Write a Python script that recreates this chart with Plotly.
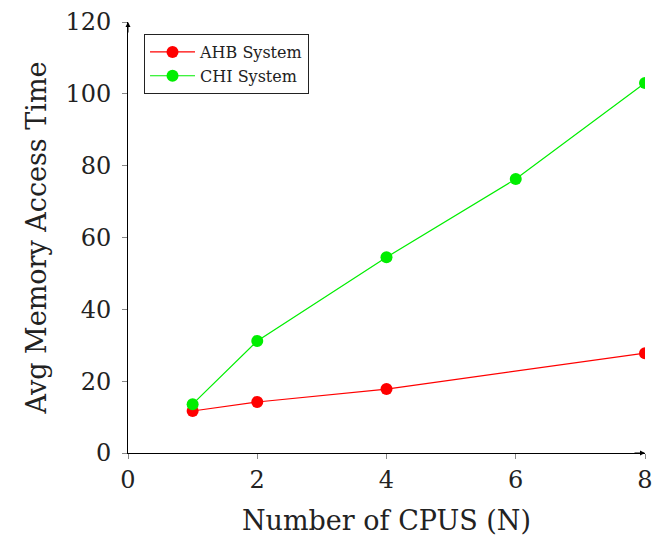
import plotly.graph_objects as go

ahb_x = [1, 2, 4, 8]
ahb_y = [11.7, 14.2, 17.8, 27.8]
chi_x = [1, 2, 4, 6, 8]
chi_y = [13.6, 31.2, 54.5, 76.3, 103.0]
x_ticks = [0, 2, 4, 6, 8]
y_ticks = [0, 20, 40, 60, 80, 100, 120]

FONT = "DejaVu Serif"

fig = go.Figure()
fig.add_trace(go.Scatter(x=ahb_x, y=ahb_y, mode="lines+markers", name="AHB System",
                         line=dict(color="#ff0000", width=1.2),
                         marker=dict(color="#ff0000", size=12)))
fig.add_trace(go.Scatter(x=chi_x, y=chi_y, mode="lines+markers", name="CHI System",
                         line=dict(color="#00ee00", width=1.2),
                         marker=dict(color="#00ee00", size=12)))

fig.update_layout(
    width=653, height=542,
    margin=dict(l=128, r=8, t=22, b=89, autoexpand=False),
    paper_bgcolor="white", plot_bgcolor="white",
    font=dict(family=FONT, color="#222"),
    showlegend=True,
    legend=dict(x=0.031, y=0.972, xanchor="left", yanchor="top",
                bordercolor="#222", borderwidth=1, bgcolor="white",
                font=dict(family=FONT, size=16, color="#222"),
                itemwidth=45, tracegroupgap=5),
)
fig.update_xaxes(range=[0, 8], tickvals=x_ticks, showgrid=False, zeroline=False,
                 showline=True, linecolor="black", linewidth=1, automargin=False,
                 ticks="outside", ticklen=5, tickcolor="#888",
                 tickfont=dict(size=24, family=FONT),
                 title=dict(text="Number of CPUS (N)", font=dict(size=27, family=FONT), standoff=18))
fig.update_yaxes(range=[0, 120], tickvals=y_ticks, showgrid=False, zeroline=False,
                 showline=True, linecolor="black", linewidth=1, automargin=False,
                 ticks="outside", ticklen=5, tickcolor="#888", ticklabelstandoff=6,
                 tickfont=dict(size=24, family=FONT),
                 title=dict(text="Avg Memory Access Time", font=dict(size=27, family=FONT), standoff=10))

# arrowheads at the axis ends
fig.add_annotation(x=1, y=0, xref="paper", yref="paper", ax=-12, ay=0,
                   showarrow=True, arrowhead=2, arrowsize=1, arrowwidth=1, arrowcolor="black", text="")
fig.add_annotation(x=0, y=1, xref="paper", yref="paper", ax=0, ay=12,
                   showarrow=True, arrowhead=2, arrowsize=1, arrowwidth=1, arrowcolor="black", text="")

fig.write_html("out.html", config={"displayModeBar": False},
               post_script="document.body.style.margin='0';document.body.style.overflow='hidden';")
